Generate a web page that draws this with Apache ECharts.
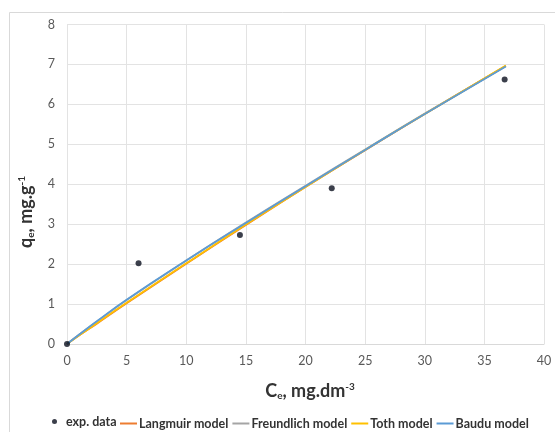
<!DOCTYPE html>
<html><head><meta charset="utf-8">
<script src="https://cdn.jsdelivr.net/npm/echarts@6/dist/echarts.min.js"></script>
<style>html,body{margin:0;padding:0;background:#fff}#c{width:555px;height:432px}</style>
</head><body><div id="c"></div>
<script>
const expC = [0, 6.0, 14.5, 22.2, 36.7];
const expQ = [0, 2.02, 2.73, 3.90, 6.62];
const modelC = [0, 1, 2.5, 5, 10, 15, 20, 25, 30, 36.8];
const langmuirQ = [0, 0.21, 0.51, 1.02, 2.01, 2.98, 3.93, 4.85, 5.76, 6.96];
const freundlichQ = [0, 0.23, 0.56, 1.10, 2.09, 3.04, 3.96, 4.87, 5.77, 6.96];
const tothQ = [0, 0.21, 0.52, 1.03, 2.02, 2.99, 3.93, 4.86, 5.76, 6.97];
const bauduQ = [0, 0.23, 0.57, 1.11, 2.09, 3.03, 3.95, 4.86, 5.76, 6.95];
const xTicks = [0, 5, 10, 15, 20, 25, 30, 35, 40];
const yTicks = [0, 1, 2, 3, 4, 5, 6, 7, 8];

const pair = (xs, ys) => xs.map((x, i) => [x, ys[i]]);
const font = 'Lato, "Open Sans", sans-serif';
const chart = echarts.init(document.getElementById('c'));
const lineSeries = (name, ys, color) => ({
  name, type: 'line', data: pair(modelC, ys), showSymbol: false, symbol: 'none',
  smooth: true, lineStyle: { color, width: 1.8 }, itemStyle: { color }, z: 2
});
const legText = { color: '#333333', fontSize: 12.5, fontWeight: 'bold', fontFamily: font };
chart.setOption({
  animation: false,
  backgroundColor: '#fff',
  grid: { left: 67, right: 11, top: 24.5, bottom: 88 },
  xAxis: {
    type: 'value', min: xTicks[0], max: xTicks[xTicks.length - 1], interval: 5,
    axisLine: { show: true, lineStyle: { color: '#d9d9d9' } },
    axisTick: { show: false },
    axisLabel: { color: '#595959', fontSize: 12.5, fontFamily: font, margin: 10 },
    splitLine: { show: true, lineStyle: { color: '#e3e3e3' } }
  },
  yAxis: {
    type: 'value', min: yTicks[0], max: yTicks[yTicks.length - 1], interval: 1,
    axisLine: { show: false }, axisTick: { show: false },
    axisLabel: { color: '#595959', fontSize: 12.5, fontFamily: font, margin: 12 },
    splitLine: { show: true, lineStyle: { color: '#e3e3e3' } }
  },
  legend: [
    { data: [{ name: 'exp. data', icon: 'circle' }], left: 47, top: 410, itemWidth: 5, itemHeight: 5, itemGap: 0,
      textStyle: Object.assign({}, legText, { padding: [0, 0, 0, 4] }) },
    { data: ['Langmuir model', 'Freundlich model', 'Toth model', 'Baudu model'].map(n => ({ name: n, icon: 'rect' })),
      left: 115, top: 412, itemWidth: 17, itemHeight: 2, itemGap: 4,
      textStyle: Object.assign({}, legText, { padding: [0, 0, 0, -3] }) }
  ],
  graphic: [
    { type: 'rect', shape: { x: 9.5, y: 12.5, width: 560, height: 440 }, style: { fill: 'none', stroke: '#d9d9d9', lineWidth: 1 }, silent: true },
    { type: 'text', x: 310, y: 391, style: {
        text: '{b|C}{s|e}{b|, mg.dm}{p|-3}', align: 'center', verticalAlign: 'middle',
        rich: {
          b: { fontSize: 18, fontWeight: 'bold', fontFamily: font, fill: '#333333' },
          s: { fontSize: 10, fontWeight: 'bold', fontFamily: font, fill: '#333333', padding: [9, 0, 0, 0] },
          p: { fontSize: 10, fontWeight: 'bold', fontFamily: font, fill: '#333333', padding: [0, 0, 9, 0] }
        } } },
    { type: 'text', x: 26, y: 212, rotation: Math.PI / 2, style: {
        text: '{b|q}{s|e}{b|, mg.g}{p|-1}', align: 'center', verticalAlign: 'middle',
        rich: {
          b: { fontSize: 18, fontWeight: 'bold', fontFamily: font, fill: '#333333' },
          s: { fontSize: 10, fontWeight: 'bold', fontFamily: font, fill: '#333333', padding: [9, 0, 0, 0] },
          p: { fontSize: 10, fontWeight: 'bold', fontFamily: font, fill: '#333333', padding: [0, 0, 9, 0] }
        } } }
  ],
  series: [
    { name: 'exp. data', type: 'scatter', data: pair(expC, expQ), symbolSize: 6,
      itemStyle: { color: '#0a0f1e' }, z: 5 },
    lineSeries('Langmuir model', langmuirQ, '#ED7D31'),
    lineSeries('Freundlich model', freundlichQ, '#A5A5A5'),
    lineSeries('Toth model', tothQ, '#FFC000'),
    lineSeries('Baudu model', bauduQ, '#5B9BD5')
  ]
});
</script></body></html>
